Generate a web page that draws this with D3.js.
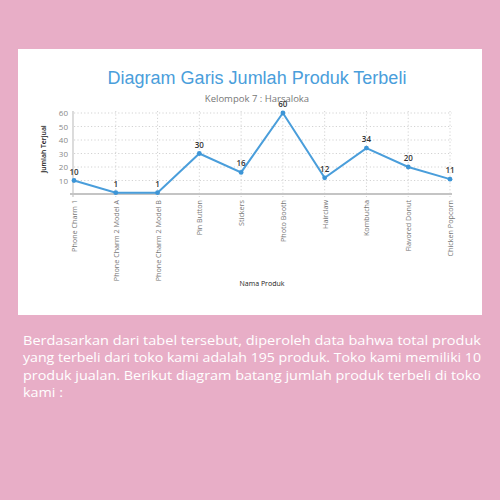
<!DOCTYPE html>
<html><head><meta charset="utf-8">
<script src="https://cdn.jsdelivr.net/npm/d3@7"></script>
<style>html,body{margin:0;padding:0;background:#e8aec7;}svg{display:block;}</style>
</head><body>
<svg id="c" width="500" height="500"></svg>
<script>
const categories = ["Phone Charm 1","Phone Charm 2 Model A","Phone Charm 2 Model B","Pin Button","Stickers","Photo Booth","Hairclaw","Kombucha","Flavored Donut","Chicken Popcorn"];
const values = [10,1,1,30,16,60,12,34,20,11];
const yTicks = [10,20,30,40,50,60];
const titleText = "Diagram Garis Jumlah Produk Terbeli";
const subtitleText = "Kelompok 7 : Harsaloka";
const xAxisTitle = "Nama Produk";
const yAxisTitle = "Jumlah Terjual";
const paragraphLines = [
  "Berdasarkan dari tabel tersebut, diperoleh data bahwa total produk",
  "yang terbeli dari toko kami adalah 195 produk. Toko kami memiliki 10",
  "produk jualan. Berikut diagram batang jumlah produk terbeli di toko",
  "kami :"
];

const svg = d3.select("#c");
svg.append("rect").attr("width",500).attr("height",500).attr("fill","#e8aec7");
svg.append("rect").attr("x",18).attr("y",49).attr("width",464).attr("height",266).attr("fill","#ffffff");

const x = d3.scalePoint().domain(categories).range([74,450]);
const y = d3.scaleLinear().domain([0,60]).range([194,113]);

svg.append("text").attr("x",257).attr("y",84).attr("text-anchor","middle")
  .attr("font-family","Liberation Sans, Arial, sans-serif").attr("font-size",18)
  .attr("fill","#4a9edb").text(titleText);
svg.append("text").attr("x",257).attr("y",102).attr("text-anchor","middle")
  .attr("font-family","Open Sans, sans-serif").attr("font-size",9.5)
  .attr("fill","#777").text(subtitleText);

// grid
const g = svg.append("g");
g.selectAll("line.hg").data(yTicks).join("line")
  .attr("x1",74).attr("x2",452).attr("y1",d=>y(d)).attr("y2",d=>y(d))
  .attr("stroke","#c8c8c8").attr("stroke-width",0.8).attr("stroke-dasharray","1.2,2.2");
g.selectAll("line.vg").data(categories.slice(1)).join("line")
  .attr("x1",d=>x(d)).attr("x2",d=>x(d)).attr("y1",111).attr("y2",197)
  .attr("stroke","#c8c8c8").attr("stroke-width",0.8).attr("stroke-dasharray","1.2,2.2");

// y axis
const yAxis = d3.axisLeft(y).tickValues(yTicks).tickSize(0).tickPadding(5);
const ya = svg.append("g").attr("transform","translate(73,0)").call(yAxis);
ya.select(".domain").remove();
ya.selectAll("text").attr("font-family","Open Sans, sans-serif").attr("font-size",8).attr("fill","#888");
svg.append("line").attr("x1",73).attr("x2",73).attr("y1",111).attr("y2",197).attr("stroke","#c4c4c4").attr("stroke-width",1.2);

// x axis
const xAxis = d3.axisBottom(x).tickSize(0).tickPadding(0);
const xa = svg.append("g").attr("transform","translate(0,194)").call(xAxis);
xa.select(".domain").remove();
xa.selectAll("text").attr("font-family","Open Sans, sans-serif").attr("font-size",7.2).attr("fill","#777")
  .attr("text-anchor","end").attr("dy",null).attr("y",0)
  .attr("transform","translate(2.5,6) rotate(-90)");
svg.append("line").attr("x1",70).attr("x2",452).attr("y1",194).attr("y2",194).attr("stroke","#c4c4c4").attr("stroke-width",1.8);

// line
const data = categories.map((c,i)=>({c, v: values[i]}));
svg.append("path").datum(data)
  .attr("d", d3.line().x(d=>x(d.c)).y(d=>y(d.v)))
  .attr("fill","none").attr("stroke","#4a9edb").attr("stroke-width",2);
svg.selectAll("circle.pt").data(data).join("circle")
  .attr("cx",d=>x(d.c)).attr("cy",d=>y(d.v)).attr("r",2.4).attr("fill","#3d95d6");
svg.selectAll("text.lbl").data(data).join("text")
  .attr("x",d=>x(d.c)).attr("y",d=>y(d.v)-6).attr("text-anchor","middle")
  .attr("font-family","Open Sans, sans-serif").attr("font-size",8).attr("font-weight",600)
  .attr("fill","#333").text(d=>d.v);

// axis titles
svg.append("text").attr("transform","translate(46,149) rotate(-90)").attr("text-anchor","middle")
  .attr("font-family","Open Sans, sans-serif").attr("font-size",6.8).attr("font-weight",600)
  .attr("fill","#222").text(yAxisTitle);
svg.append("text").attr("x",262).attr("y",286).attr("text-anchor","middle")
  .attr("font-family","Open Sans, sans-serif").attr("font-size",7).attr("fill","#222").text(xAxisTitle);

// paragraph
svg.selectAll("text.para").data(paragraphLines).join("text")
  .attr("x",23).attr("y",(d,i)=>345+i*17.4)
  .attr("font-family","Open Sans, sans-serif").attr("font-size",13.5)
  .attr("fill","#ffffff")
  .each(function(d,i){
    const tl = i<paragraphLines.length-1 ? 458 : 40;
    d3.select(this).attr("textLength",tl).attr("lengthAdjust","spacingAndGlyphs");
  })
  .text(d=>d);
</script>
</body></html>
